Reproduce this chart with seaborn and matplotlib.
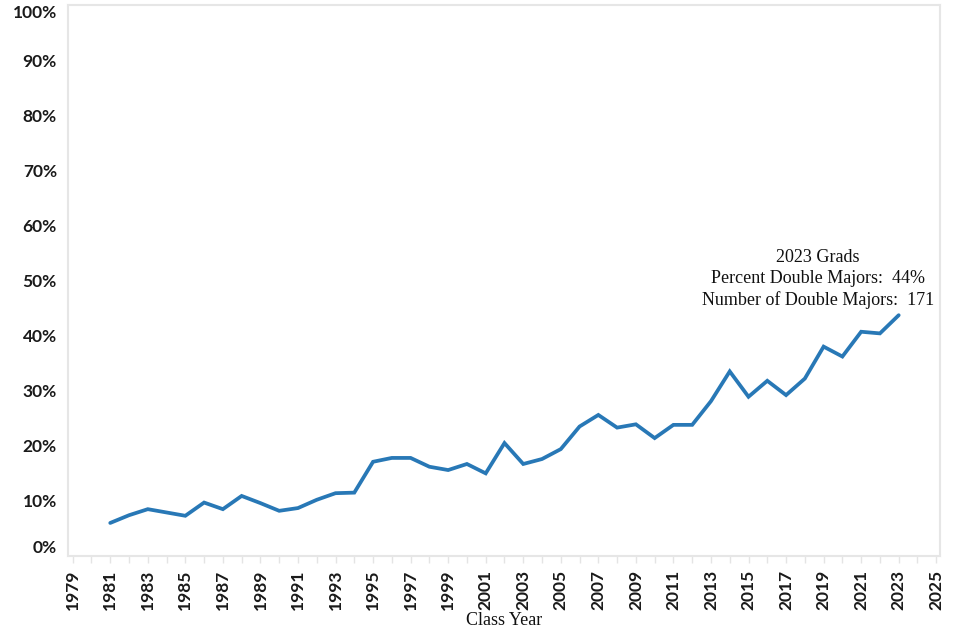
import matplotlib
matplotlib.use("Agg")
import matplotlib.pyplot as plt
import seaborn as sns
import pandas as pd
from matplotlib.ticker import MultipleLocator

years = list(range(1981, 2024))
pct_double = [6.0, 7.4, 8.5, 7.9, 7.3, 9.7, 8.5, 10.9, 9.6, 8.2,
              8.7, 10.2, 11.4, 11.5, 17.1, 17.8, 17.8, 16.2, 15.6, 16.7,
              15.0, 20.5, 16.7, 17.6, 19.4, 23.5, 25.6, 23.3, 23.9, 21.4,
              23.8, 23.8, 28.1, 33.5, 28.9, 31.8, 29.2, 32.2, 38.0, 36.2,
              40.7, 40.4, 43.7]
x_ticks = list(range(1979, 2026, 2))
y_ticks = list(range(0, 101, 10))
y_labels = [f"{v}%" for v in y_ticks]
annot_lines = ["2023 Grads", "Percent Double Majors:  44%",
               "Number of Double Majors:  171"]

df = pd.DataFrame({"Class Year": years, "Pct": pct_double})

sns.set_theme(style="white")
plt.rcParams["font.family"] = ["DejaVu Sans"]

fig = plt.figure(figsize=(9.56, 6.29), dpi=100)
ax = fig.add_axes([68/956, 73/629, (940-68)/956, (556-5)/629])

sns.lineplot(data=df, x="Class Year", y="Pct", ax=ax, color="#2878b6",
             linewidth=2.7, solid_joinstyle="miter")

ax.set_xlim(1978.75, 2025.2)
ax.set_ylim(0, 100)

ax.set_yticks(y_ticks)
ax.set_yticklabels(y_labels, fontsize=12.5, fontfamily="Lato",
                   fontweight="bold", color="#1a1a1a")
for lab, v in zip(ax.get_yticklabels(), y_ticks):
    if v == 0:
        lab.set_va("bottom")
    elif v == 100:
        lab.set_va("top")

ax.set_xticks(x_ticks)
ax.set_xticklabels([str(t) for t in x_ticks], rotation=90, fontsize=12.5,
                   fontfamily="Lato", fontweight="bold", color="#1a1a1a")
ax.xaxis.set_minor_locator(MultipleLocator(1))
ax.tick_params(axis="x", which="both", direction="out", length=5,
               color="#e4e4e4", width=1, bottom=True, pad=5)
ax.tick_params(axis="y", which="both", length=0, pad=8)

ax.set_xlabel("Class Year", fontsize=13, fontfamily="Liberation Serif",
              color="#111111", labelpad=1)
ax.set_ylabel("")

for side in ["left", "right", "top", "bottom"]:
    ax.spines[side].set_visible(True)
    ax.spines[side].set_color("#e6e6e6")
    ax.spines[side].set_linewidth(1.5)

ax.text(2018.7, 50.2, "\n".join(annot_lines), ha="center", va="center",
        fontsize=13, fontfamily="Liberation Serif", color="#111111",
        linespacing=1.3)

fig.savefig("out.png", dpi=100)
